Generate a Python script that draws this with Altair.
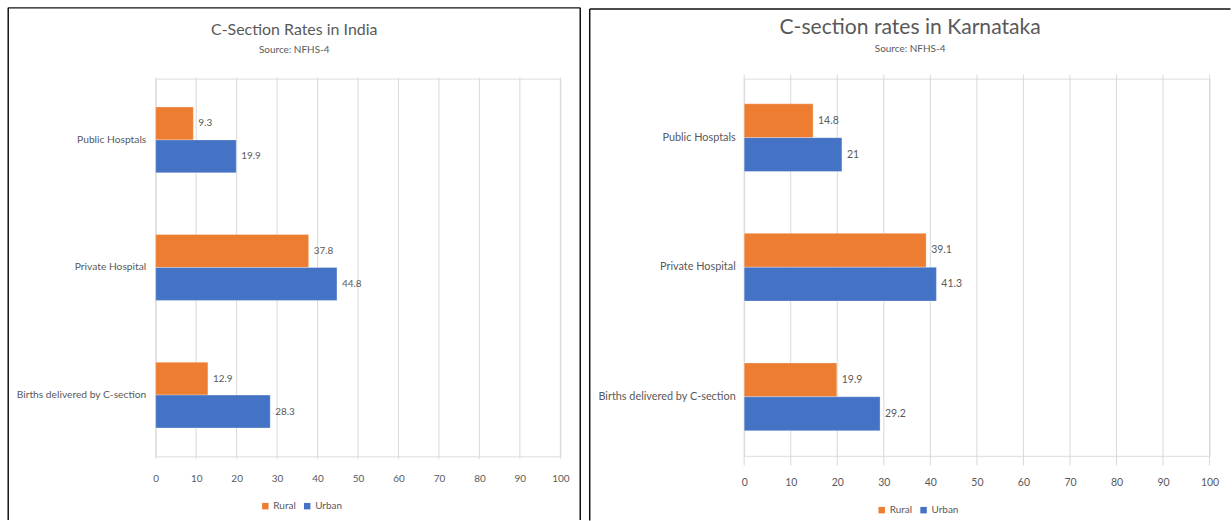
import altair as alt
import pandas as pd

categories = ["Public Hosptals", "Private Hospital", "Births delivered by C-section"]
series = ["Rural", "Urban"]
india_rural = [9.3, 37.8, 12.9]
india_urban = [19.9, 44.8, 28.3]
karnataka_rural = [14.8, 39.1, 19.9]
karnataka_urban = [21, 41.3, 29.2]
x_ticks = [0, 10, 20, 30, 40, 50, 60, 70, 80, 90, 100]

ORANGE = "#ED7D31"
BLUE = "#4472C4"
GREY = "#595959"
GRID = "#D9D9D9"
FONT = "Lato"


def make_df(rural, urban):
    rows = []
    for c, r, u in zip(categories, rural, urban):
        rows.append({"category": c, "series": "Rural", "value": r, "label": f"{r:g}"})
        rows.append({"category": c, "series": "Urban", "value": u, "label": f"{u:g}"})
    return pd.DataFrame(rows)


def rule(x, x2=None, y=None, y2=None):
    enc = {"x": alt.value(x), "y": alt.value(y)}
    if x2 is not None:
        enc["x2"] = alt.value(x2)
    if y2 is not None:
        enc["y2"] = alt.value(y2)
    return (
        alt.Chart(pd.DataFrame({"k": [0]}))
        .mark_rule(color="#111111", strokeWidth=1.5)
        .encode(**enc)
    )


def panel(df, title, title_size, title_offset, sub_pad, w, h, pi, po, cat_font,
          cat_pad, tick_font, tick_pad, grid_top, grid_bottom, legend_x, legend_y,
          borders):
    x_scale = alt.Scale(domain=[0, 100], nice=False)
    y_enc = alt.Y(
        "category:N",
        sort=categories,
        scale=alt.Scale(paddingInner=pi, paddingOuter=po),
        axis=alt.Axis(title=None, domain=False, ticks=False, labelPadding=cat_pad,
                      labelLimit=400, labelFontSize=cat_font, labelColor=GREY,
                      labelFont=FONT, grid=False),
    )
    yoff = alt.YOffset("series:N", sort=series)

    grid = (
        alt.Chart(pd.DataFrame({"tick": x_ticks}))
        .mark_rule(color=GRID, strokeWidth=1)
        .encode(
            x=alt.X("tick:Q", scale=x_scale,
                    axis=alt.Axis(values=x_ticks, title=None, domain=False, ticks=False,
                                  grid=False, labelFlush=False, labelPadding=tick_pad,
                                  labelFontSize=tick_font, labelColor=GREY,
                                  labelFont=FONT)),
            y=alt.value(grid_top),
            y2=alt.value(grid_bottom),
        )
    )

    base = alt.Chart(df)
    bars = base.mark_bar(stroke="#ffffff", strokeWidth=0.6, strokeOpacity=0.5).encode(
        x=alt.X("value:Q", scale=x_scale),
        y=y_enc,
        yOffset=yoff,
        color=alt.Color(
            "series:N",
            scale=alt.Scale(domain=series, range=[ORANGE, BLUE]),
            legend=alt.Legend(
                title=None, orient="none", legendX=legend_x, legendY=legend_y,
                direction="horizontal", symbolType="square", symbolSize=42,
                symbolStrokeWidth=0, labelFontSize=10, labelColor=GREY,
                labelFont=FONT, columnPadding=6, labelOffset=3, padding=0,
            ),
        ),
    )
    labels = base.mark_text(align="left", dx=5, fontSize=tick_font, color=GREY, font=FONT).encode(
        x="value:Q", y=y_enc, yOffset=yoff, text="label:N"
    )
    layers = [grid, bars, labels] + [rule(**b) for b in borders]
    return alt.layer(*layers).properties(
        width=w,
        height=h,
        title=alt.TitleParams(
            text=title,
            subtitle="Source: NFHS-4",
            fontSize=title_size,
            fontWeight="normal",
            font=FONT,
            color=GREY,
            subtitleFontSize=10,
            subtitleColor=GREY,
            subtitleFont=FONT,
            subtitlePadding=sub_pad,
            anchor="middle",
            frame="bounds",
            offset=title_offset,
        ),
    )


left = panel(
    make_df(india_rural, india_urban),
    "C-Section Rates in India", 16, -48, 7,
    406, 379, 0.484, 0.222, 10.3, 10, 10, 17.5,
    -1, 381.5,
    105, 424,
    [
        {"x": -148, "y": -71, "y2": 443},
        {"x": 426, "y": -71, "y2": 443},
        {"x": -148, "x2": 426, "y": -71},
    ],
)

right = panel(
    make_df(karnataka_rural, karnataka_urban),
    "C-section rates in Karnataka", 21.2, -45.5, 6,
    467, 378.5, 0.477, 0.194, 10.9, 9, 10.5, 21.5,
    -4, 388.25,
    133, 428,
    [
        {"x": -155, "y": -69.75, "y2": 443.5},
        {"x": -155, "x2": 488, "y": -69.75},
    ],
)

chart = (
    alt.concat(left, right, columns=2, spacing=5.5)
    .resolve_scale(x="independent", y="independent", color="independent", yOffset="independent")
    .resolve_legend(color="independent")
    .properties(padding={"left": 6.25, "top": 5, "right": 0, "bottom": 0})
    .configure_view(stroke=None)
    .configure(background="white")
)

chart.save("out.html", embed_options={"renderer": "svg", "actions": False})
